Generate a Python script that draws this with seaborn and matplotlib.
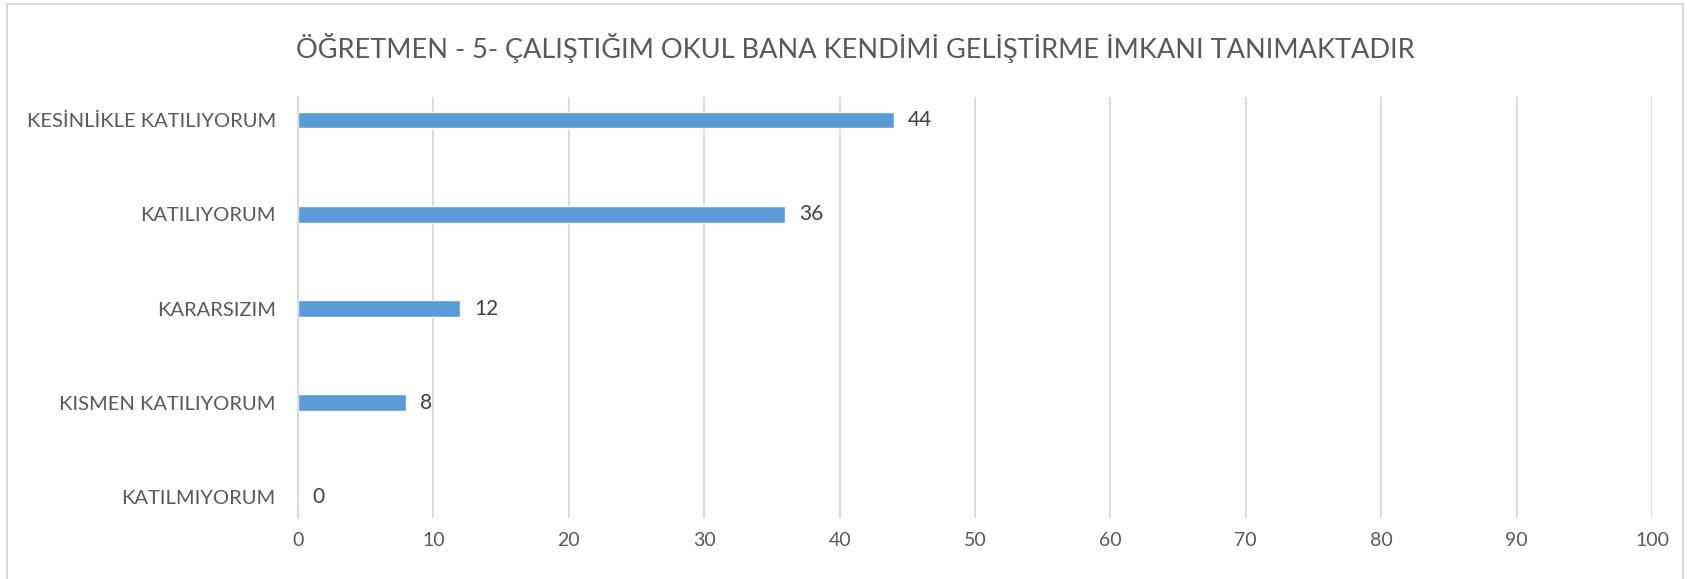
import matplotlib
matplotlib.use("Agg")
import matplotlib.pyplot as plt
import matplotlib.patches as mpatches
import seaborn as sns

# data
categories = ["KESİNLİKLE KATILIYORUM", "KATILIYORUM", "KARARSIZIM",
              "KISMEN KATILIYORUM", "KATILMIYORUM"]
values = [44, 36, 12, 8, 0]
x_ticks = [0, 10, 20, 30, 40, 50, 60, 70, 80, 90, 100]
title = "ÖĞRETMEN - 5- ÇALIŞTIĞIM OKUL BANA KENDİMİ GELİŞTİRME İMKANI TANIMAKTADIR"

sns.set_style("white")
plt.rcParams['font.family'] = ['Lato', 'DejaVu Sans']

BAR_COLOR = "#5B9BD5"
GRID_COLOR = "#D9D9D9"
TEXT_COLOR = "#595959"

fig = plt.figure(figsize=(16.87, 5.79), dpi=100)
ax = fig.add_axes([298 / 1687, 1 - 518 / 579, (1652 - 298) / 1687, (518 - 97) / 579])

sns.barplot(x=values, y=categories, color=BAR_COLOR, width=0.18,
            orient="h", ax=ax, saturation=1)

ax.set_xlim(0, 100)
ax.set_ylim(4.22, -0.244)
ax.set_xticks(x_ticks)
ax.set_xlabel("")
ax.set_ylabel("")

# vertical gridlines only
ax.grid(axis="x", color=GRID_COLOR, linewidth=1.3)
ax.set_axisbelow(True)
for side in ["top", "right", "bottom"]:
    ax.spines[side].set_visible(False)
ax.spines["left"].set_color(GRID_COLOR)
ax.spines["left"].set_linewidth(1.3)

ax.tick_params(axis="y", length=0, pad=16, labelsize=14.5, labelcolor=TEXT_COLOR)
ax.tick_params(axis="x", length=0, pad=10, labelsize=14, labelcolor=TEXT_COLOR)

# value labels at bar ends
ax.bar_label(ax.containers[0], fmt="%d", padding=10, fontsize=15, color="#404040")

fig.text(855 / 1687, 1 - 48 / 579, title, ha="center", va="center",
         fontsize=19.5, color=TEXT_COLOR)

# light frame around the chart
fig.patches.append(mpatches.Rectangle((7 / 1687, -0.01), (1683 - 7) / 1687, 1.01 - 4 / 579,
                                      transform=fig.transFigure, fill=False,
                                      edgecolor=GRID_COLOR, linewidth=1.5))

fig.savefig("out.png", dpi=100)
